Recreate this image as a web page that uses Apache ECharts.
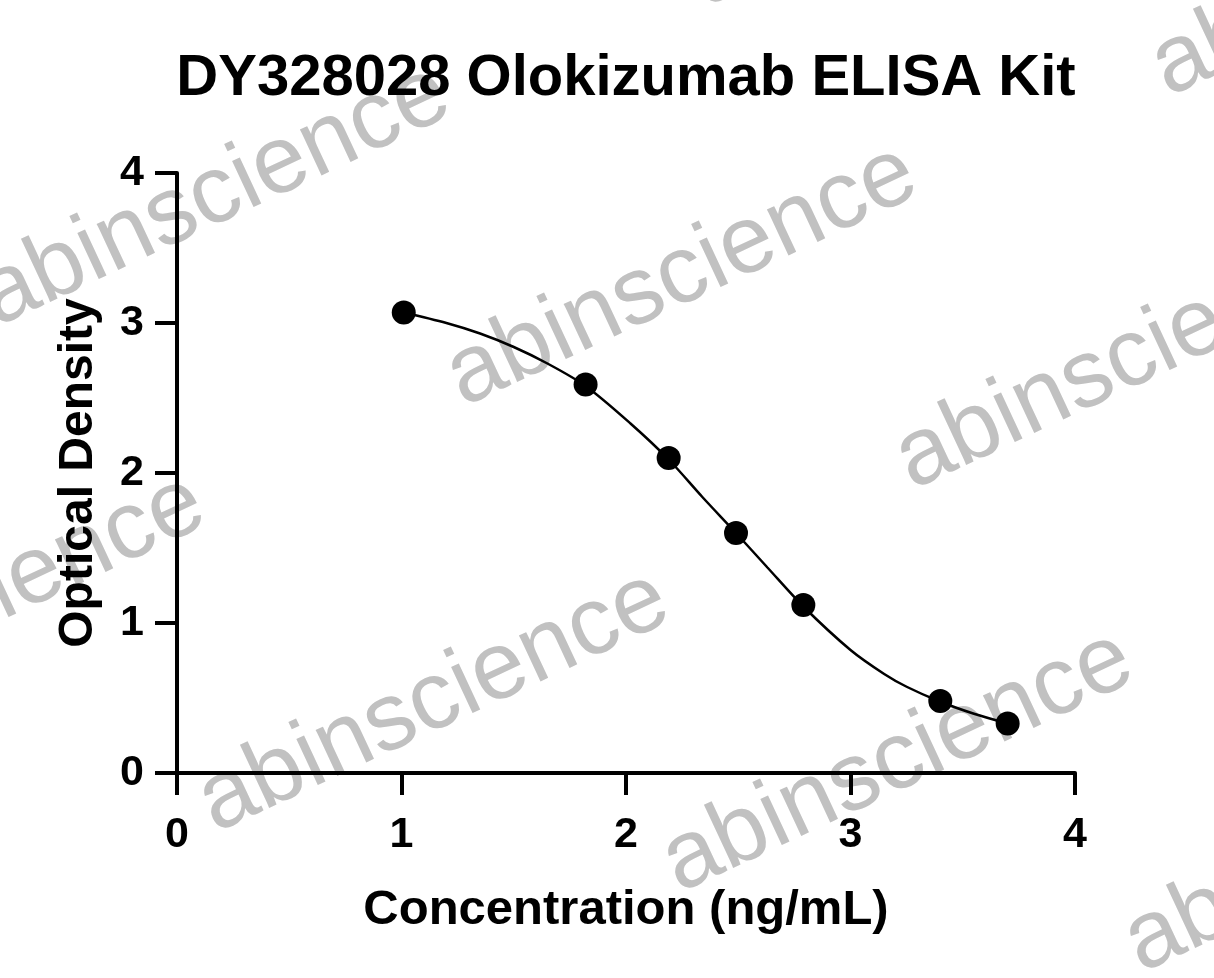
<!DOCTYPE html>
<html>
<head>
<meta charset="utf-8">
<script src="https://cdn.jsdelivr.net/npm/echarts@6/dist/echarts.min.js"></script>
<style>
  html, body { margin: 0; padding: 0; background: #fff; }
  #chart { width: 1214px; height: 978px; }
</style>
</head>
<body>
<div id="chart"></div>
<script>
// measured standards (concentration vs OD)
const concX = [1.01, 1.82, 2.19, 2.49, 2.79, 3.40, 3.70];
const odY = [3.07, 2.59, 2.10, 1.60, 1.12, 0.48, 0.33];

// fitted curve
const curveX = [1.01, 1.20, 1.35, 1.50, 1.65, 1.82, 2.02, 2.19, 2.34, 2.49, 2.63, 2.79, 3.00, 3.15, 3.25, 3.40, 3.55, 3.70];
const curveY = [3.07, 3.00, 2.93, 2.84, 2.73, 2.58, 2.33, 2.09, 1.84, 1.60, 1.37, 1.11, 0.82, 0.66, 0.575, 0.475, 0.395, 0.33];

const xTicks = [0, 1, 2, 3, 4];
const yTicks = [0, 1, 2, 3, 4];

const FONT = '"Liberation Sans", Arial, sans-serif';

// watermark placement: centre of the leading "a" of each repeat
const wmAnchors = [
  [722, -20], [1185, 70],
  [13, 300], [480, 380], [929, 463],
  [-232, 710], [232, 806], [696, 866], [1158, 946]
];
const wmAngle = 25 * Math.PI / 180;
const wmElements = wmAnchors.map(([ax, ay]) => ({
  type: 'text',
  x: ax - 28,
  y: ay + 3,
  rotation: wmAngle,
  z: -10,
  silent: true,
  style: {
    text: 'abinscience',
    fontSize: 96,
    fontFamily: FONT,
    fill: '#c1c1c1',
    align: 'left',
    verticalAlign: 'middle'
  }
}));

const chart = echarts.init(document.getElementById('chart'));

chart.setOption({
  animation: false,
  backgroundColor: '#fff',
  title: {
    text: 'DY328028 Olokizumab ELISA Kit',
    left: 626,
    top: 50,
    padding: 0,
    textAlign: 'center',
    textStyle: { fontFamily: FONT, fontSize: 58, fontWeight: 'bold', color: '#000' }
  },
  graphic: { elements: wmElements },
  grid: { left: 177, right: 139, top: 173, bottom: 205, containLabel: false },
  xAxis: {
    type: 'value',
    min: xTicks[0],
    max: xTicks[xTicks.length - 1],
    interval: 1,
    name: 'Concentration (ng/mL)',
    nameLocation: 'middle',
    nameGap: 113,
    nameTextStyle: { fontFamily: FONT, fontSize: 49, fontWeight: 'bold', color: '#000' },
    axisLine: { onZero: false, lineStyle: { color: '#000', width: 4 } },
    axisTick: { show: true, length: 22, lineStyle: { color: '#000', width: 4 } },
    axisLabel: { margin: 41, fontFamily: FONT, fontSize: 43, fontWeight: 'bold', color: '#000' },
    splitLine: { show: false }
  },
  yAxis: {
    type: 'value',
    min: yTicks[0],
    max: yTicks[yTicks.length - 1],
    interval: 1,
    name: 'Optical Density',
    nameLocation: 'middle',
    nameGap: 74,
    nameTextStyle: { fontFamily: FONT, fontSize: 48, fontWeight: 'bold', color: '#000' },
    axisLine: { show: true, onZero: false, lineStyle: { color: '#000', width: 4 } },
    axisTick: { show: true, length: 22, lineStyle: { color: '#000', width: 4 } },
    axisLabel: { margin: 33, fontFamily: FONT, fontSize: 43, fontWeight: 'bold', color: '#000' },
    splitLine: { show: false }
  },
  series: [
    {
      name: 'fit',
      type: 'line',
      data: curveX.map((x, k) => [x, curveY[k]]),
      smooth: 0.3,
      showSymbol: false,
      symbol: 'none',
      lineStyle: { color: '#000', width: 2.5 },
      z: 3
    },
    {
      name: 'standards',
      type: 'scatter',
      data: concX.map((x, k) => [x, odY[k]]),
      symbol: 'circle',
      symbolSize: 24,
      itemStyle: { color: '#000', opacity: 1 },
      z: 4
    }
  ]
});
</script>
</body>
</html>
